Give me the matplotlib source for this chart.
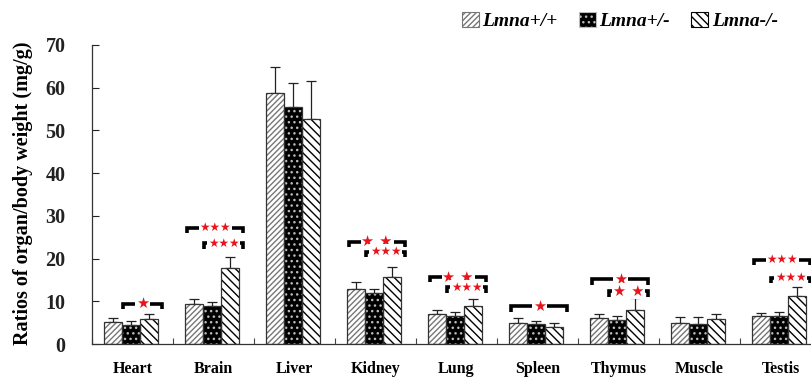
import matplotlib
matplotlib.use("Agg")
import matplotlib.pyplot as plt
from matplotlib.patches import Patch
import numpy as np

categories = ['Heart', 'Brain', 'Liver', 'Kidney', 'Lung', 'Spleen', 'Thymus', 'Muscle', 'Testis']
series_names = ['Lmna+/+', 'Lmna+/-', 'Lmna-/-']
wt = [5.2, 9.4, 58.8, 12.9, 7.0, 4.9, 6.1, 4.9, 6.6]
wt_err = [0.9, 1.1, 6.1, 1.6, 1.0, 1.2, 0.9, 1.4, 0.6]
het = [4.5, 8.9, 55.5, 11.9, 6.6, 4.6, 5.6, 4.6, 6.6]
het_err = [0.9, 0.9, 5.6, 1.0, 0.9, 0.8, 1.0, 1.7, 0.9]
ko = [5.9, 17.8, 52.7, 15.7, 8.9, 4.0, 8.0, 5.9, 11.2]
ko_err = [1.1, 2.6, 8.9, 2.4, 1.6, 0.9, 2.8, 1.1, 2.2]
yticks = [0, 10, 20, 30, 40, 50, 60, 70]

# significance brackets: (category index, kind, height, label)
brackets = [
    (0, 'lower', 9.4, '★'),
    (1, 'upper', 27.2, '★★★'), (1, 'lower', 23.6, '★★★'),
    (3, 'upper', 23.9, '★ ★'), (3, 'lower', 21.6, '★★★'),
    (4, 'upper', 15.7, '★ ★'), (4, 'lower', 13.3, '★★★'),
    (5, 'upper', 8.9, '★'),
    (6, 'upper', 15.2, '★'), (6, 'lower', 12.4, '★ ★'),
    (8, 'upper', 19.7, '★★★'), (8, 'lower', 15.5, '★★★'),
]

serif = ['Liberation Serif', 'DejaVu Serif']
plt.rcParams['font.family'] = serif
plt.rcParams['font.weight'] = 'bold'

fig = plt.figure(figsize=(8.11, 3.77), dpi=100)
W, H = 811, 377
ax_left, ax_bottom = 92, 344
cat_px = 81
ax = fig.add_axes([ax_left / W, (H - ax_bottom) / H, 9 * cat_px / W, (ax_bottom - 45) / H])

x = np.arange(len(categories))
bw = 0.225
shift = -0.02

styles = [
    dict(face='white', hatch='//////', hcolor='#777777'),
    dict(face='black', hatch='...', hcolor='#bbbbbb'),
    dict(face='white', hatch='\\\\\\\\', hcolor='black'),
]
vals = [wt, het, ko]
errs = [wt_err, het_err, ko_err]
for k in range(3):
    pos = x + shift + (k - 1) * bw
    st = styles[k]
    ax.bar(pos, vals[k], bw, color=st['face'], edgecolor=st['hcolor'], hatch=st['hatch'],
           linewidth=0, zorder=2)
    ax.bar(pos, vals[k], bw, fill=False, edgecolor='#333333', linewidth=0.9, zorder=3)
    ax.errorbar(pos, vals[k], yerr=[np.zeros(len(x)), errs[k]], fmt='none',
                ecolor='#222222', elinewidth=0.9, capsize=3.5, capthick=0.9, zorder=1)

hook = 1.3
for ci, kind, yb, label in brackets:
    c = x[ci]
    x1 = c - 0.33 if kind == 'upper' else c - 0.12
    x2 = c + 0.37
    mid = (x1 + x2) / 2
    ax.plot([x1, x1, x2, x2], [yb - hook, yb, yb, yb - hook], color='black', lw=2.6,
            solid_capstyle='butt', solid_joinstyle='miter', zorder=4)
    fs = 8.5 if label == '★★★' else 10.5
    ax.text(mid, yb, label, color='#e8141c', fontsize=fs, ha='center', va='center',
            family=['DejaVu Sans'], zorder=5,
            bbox=dict(facecolor='white', edgecolor='none', pad=0.6))

ax.set_xlim(-0.5, 8.5)
ax.set_ylim(0, 70)
ax.set_yticks(yticks)
ax.set_yticklabels([str(t) for t in yticks], fontsize=14.5, fontweight='bold')
ax.tick_params(axis='y', direction='in', length=5, width=0.8, pad=19, colors='#222222')
ax.set_xticks(x)
ax.set_xticklabels(categories, fontsize=11.5, fontweight='bold')
ax.tick_params(axis='x', which='major', length=0, pad=12)
ax.set_xticks(np.arange(-0.5, 9, 1), minor=True)
ax.tick_params(axis='x', which='minor', direction='in', length=4, width=0.8, colors='#444444')
for s in ['top', 'right']:
    ax.spines[s].set_visible(False)
for s in ['left', 'bottom']:
    ax.spines[s].set_linewidth(0.9)
    ax.spines[s].set_color('#333333')

fig.text(23 / W, 1 - 193 / H, 'Ratios of organ/body weight (mg/g)', rotation=90,
         ha='center', va='center', fontsize=14.5, fontweight='bold')

handles = [Patch(facecolor=st['face'], edgecolor=st['hcolor'], hatch=st['hatch'], linewidth=0.8)
           for st in styles]
fig.legend(handles, series_names, loc='center left', bbox_to_anchor=(462 / W, 1 - 21 / H),
           ncol=3, frameon=False, borderpad=0, borderaxespad=0, handlelength=0.85,
           handleheight=0.85, handletextpad=0.2, columnspacing=1.1,
           prop=dict(family=serif, style='italic', weight='bold', size=14))

fig.savefig('out.png', dpi=100)
